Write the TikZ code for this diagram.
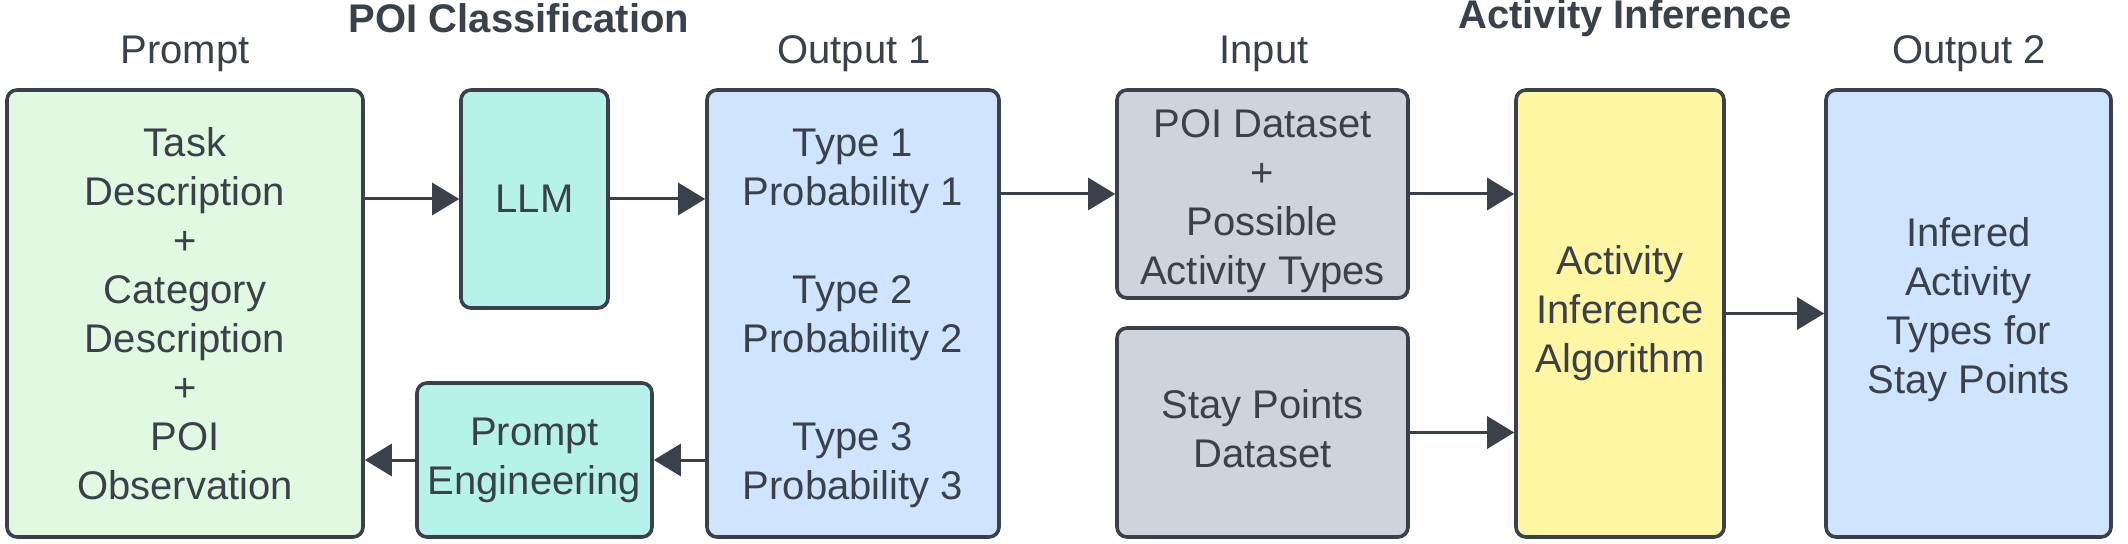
\documentclass[tikz,border=0pt]{standalone}
\usepackage{fontspec}
\setmainfont{Liberation Sans}
\usepackage{xcolor}
\usetikzlibrary{arrows.meta,positioning}
\definecolor{ink}{HTML}{3A414A}
\definecolor{cgreen}{HTML}{E1F8E1}
\definecolor{cteal}{HTML}{B5F2EA}
\definecolor{cblue}{HTML}{CFE4FF}
\definecolor{cgray}{HTML}{CED4DB}
\definecolor{cyellow}{HTML}{FFF6A3}
\newcommand{\hstrut}[1]{\rule{0pt}{#1}}
\tikzset{
  box/.style   = {rectangle, rounded corners=5pt, draw=ink, line width=1.8pt,
                  align=center, text=ink, inner sep=0pt,
                  font=\fontsize{20}{24.5}\selectfont},
  boxg/.style  = {box, fill=cgreen},
  boxt/.style  = {box, fill=cteal},
  boxb/.style  = {box, fill=cblue},
  boxs/.style  = {box, fill=cgray},
  boxy/.style  = {box, fill=cyellow},
  tup/.style   = {execute at end node={\rule[-#1]{0pt}{#1}}},
  ttl/.style   = {text=ink, inner sep=0pt, font=\fontsize{20}{24.5}\selectfont},
  ttlb/.style  = {ttl, font=\fontsize{20}{24.5}\selectfont\bfseries},
  fl/.style    = {-{Triangle[length=13.5pt,width=16pt]}, line width=1.5pt, ink},
}

\begin{document}
\begin{tikzpicture}[x=0.5pt,y=-0.5pt]
  \useasboundingbox (0,0) rectangle (2128,544);
  % boxes
  \node[boxg, minimum width=178pt, minimum height=223.5pt] (prompt) at (185,313.5)
    {Task\\Description\\+\\Category\\Description\\+\\POI\\Observation};
  \node[boxt, minimum width=73.5pt, minimum height=109pt] (llm) at (534.5,199) {LLM};
  \node[boxt, minimum width=117.5pt, minimum height=77pt] (peng) at (534.5,460)
    {Prompt\\Engineering};
  \node[boxb, minimum width=146pt, minimum height=223.5pt] (out1) at (853,313.5)
    {\hstrut{19pt}Type 1\\Probability 1\\ \\Type 2\\Probability 2\\ \\Type 3\\Probability 3};
  \node[boxs, minimum width=145.5pt, minimum height=104pt] (poids) at (1262.5,194)
    {\hstrut{21pt}POI Dataset\\+\\Possible\\Activity Types};
  \node[boxs, tup=4pt, minimum width=145.5pt, minimum height=104.5pt] (stayds) at (1262.5,432.5)
    {Stay Points\\Dataset};
  \node[boxy, minimum width=104pt, minimum height=223.5pt] (infalg) at (1620,313.5)
    {Activity\\Inference\\Algorithm};
  \node[boxb, tup=8.2pt, minimum width=142.5pt, minimum height=223.5pt] (out2) at (1968.5,313.5)
    {Infered\\Activity\\Types for\\Stay Points};
  % headings
  \node[ttl] (tprompt) at (185,54) {Prompt};
  \node[ttl] (tout1) at (854,54) {Output 1};
  \node[ttl] (tinput) at (1264,54) {Input};
  \node[ttl] (tout2) at (1969,54) {Output 2};
  \node[ttlb] (tpoicls) at (519,18.5) {POI Classification};
  \node[ttlb] (tactinf) at (1625,18.5) {Activity Inference};
  % arrows
  \draw[fl] (prompt.east |- llm.west) -- (llm.west);
  \draw[fl] (llm.east) -- (llm.east -| out1.west);
  \draw[fl] (out1.west |- peng.east) -- (peng.east);
  \draw[fl] (peng.west) -- (peng.west -| prompt.east);
  \draw[fl] (out1.east |- poids.west) -- (poids.west);
  \draw[fl] (poids.east) -- (poids.east -| infalg.west);
  \draw[fl] (stayds.east) -- (stayds.east -| infalg.west);
  \draw[fl] (infalg.east |- out2.west) -- (out2.west);
\end{tikzpicture}
\end{document}
